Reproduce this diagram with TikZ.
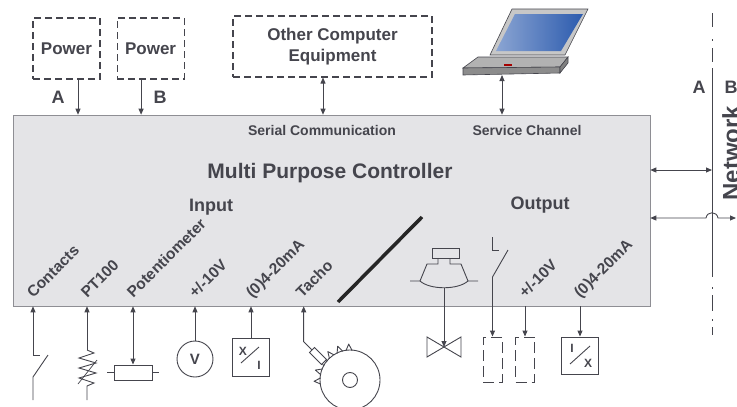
\documentclass[tikz,border=0pt]{standalone}
\usepackage{fontspec}
\setmainfont{Liberation Sans}
\usetikzlibrary{arrows.meta,positioning,calc}
\definecolor{ink}{HTML}{45454D}
\definecolor{panel}{HTML}{E4E4E7}
\definecolor{frame}{HTML}{8E8E94}
\definecolor{lcd}{HTML}{2C5BAE}
\newcommand\fs[1]{\fontsize{#1}{#1}\selectfont\bfseries}

\begin{document}
\begin{tikzpicture}[x=1pt,y=-1pt,line width=0.9pt,color=ink,
    every node/.style={text=ink,font=\fs{14}},
    >={Triangle[length=6pt,width=5pt]},
    supply/.style={draw,dash pattern=on 7pt off 4pt,line width=1.1pt,minimum width=67pt,minimum height=61pt,font=\fs{17}},
    slant/.style={rotate=45,anchor=base west,inner sep=0pt,font=\fs{15.5}},
    conv/.style={draw,minimum width=37pt,minimum height=38pt,inner sep=0pt},
    load/.style={draw,dash pattern=on 11pt off 5pt,minimum width=19pt,minimum height=45pt,inner sep=0pt},
    small/.style={inner sep=0pt,font=\fs{12}}]
   \useasboundingbox (0,0) rectangle (737,407);

   \node[draw=frame,fill=panel,line width=0.6pt,minimum width=637pt,minimum height=191pt] (mpc) at (331.5,210.5) {};
   \node[supply] (pwrA) at (66.5,48.5) {Power};
   \node[supply,right=16pt of pwrA] (pwrB) {Power};
   \node[supply,minimum width=199pt,align=center,font=\fontsize{17}{21}\selectfont\bfseries] (other) at (332.5,46.5) {Other Computer\\Equipment};
   \node[font=\fs{18}] (labA) at (58,97) {A};
   \node[font=\fs{18}] (labB) at (160,97) {B};

   % laptop
   \draw[fill=black!22,line width=0.6pt] (490,55) -- (512,9) -- (588,9) -- (565,55) -- cycle;
   \shade[left color=lcd!55!white,right color=lcd] (496,51) -- (515,14) -- (583,14) -- (561,51) -- cycle;
   \draw[fill=black!30,line width=0.6pt] (478,57) -- (568,57) -- (560,67) -- (463,68) -- cycle;
   \draw[fill=black!45,line width=0.6pt] (463,68) -- (560,67) -- (560,73) -- (463,75) -- cycle;
   \draw[fill=black!50,line width=0.6pt] (560,67) -- (568,57) -- (568,63) -- (560,73) -- cycle;
   \fill[red!65!black] (504,64) rectangle (512,66);
   \coordinate (pc) at (502,75);

   \draw[->] ([xshift=11.5pt]pwrA.south) -- ([xshift=11.5pt]pwrA.south |- mpc.north);
   \draw[->] ([xshift=-9.5pt]pwrB.south) -- ([xshift=-9.5pt]pwrB.south |- mpc.north);
   \draw[<->] ([xshift=-9.5pt]other.south) -- ([xshift=-9.5pt]other.south |- mpc.north);
   \draw[<->] (pc) -- (pc |- mpc.north);

   \node (serial) at (322,130) {Serial Communication};
   \node (service) at (527,130) {Service Channel};
   \node[font=\fs{21}] (title) at (330,173) {Multi Purpose Controller};
   \node[font=\fs{18}] (input) at (211,207) {Input};
   \node[font=\fs{18}] (output) at (540,205) {Output};
   \foreach \x/\t in {33/Contacts,87/PT100,133/Potentiometer,195/{+/-10V},252/{(0)4-20mA},302/Tacho,525/{+/-10V},580/{(0)4-20mA}}
      \node[slant] (lab\x) at (\x,299) {\t};
   \draw[line width=3.5pt,color=black!85] (338,302) -- (422,217);

   % network
   \coordinate (netT) at (712,13);
   \coordinate (netU) at (712,68);
   \coordinate (netL) at (712,287);
   \coordinate (netB) at (712,335);
   \draw[dash pattern=on 14pt off 12pt on 2pt off 7pt] (netT) -- (netU);
   \draw (netU) -- (712,277);
   \draw[dash pattern=on 2pt off 6pt on 16pt off 8pt] (netL) -- (netB);
   \node[font=\fs{18}] (netA) at (699,87) {A};
   \node[font=\fs{18}] (netBl) at (731,87) {B};
   \node[font=\fs{24},rotate=90] (net) at (731,153) {Network};
   \coordinate (bus1) at (712,170);
   \coordinate (hop) at (706,218);
   \coordinate (bus2) at (736,218);
   \draw[<->] ([yshift=40.5pt]mpc.east) -- (bus1);
   \draw[<->] ([yshift=-7.5pt]mpc.east) -- (hop) .. controls (707,211) and (717,211) .. (718,218) -- (bus2);

   % inputs
   \coordinate (sw) at (33,355);
   \draw[->] (sw) -- (sw |- mpc.south);
   \draw (sw) -- ++(7,0);
   \draw (33,400) -- (33,377) -- (48,355);
   \coordinate (pt) at (87,350);
   \draw[->] (pt) -- (pt |- mpc.south);
   \draw[line join=miter] (pt) -- (94,353) -- (79,358) -- (96,363) -- (79,368) -- (96,373) -- (79,378) -- (94,383) -- (87,386) -- (87,400);
   \draw[line width=0.7pt] (78,384) -- (97,360);
   \node[draw,minimum width=38pt,minimum height=15pt,inner sep=0pt] (pot) at (133,372.5) {};
   \draw[<->] (pot.north) -- (pot.north |- mpc.south);
   \draw (pot.west) -- ++(-7,0) (pot.east) -- ++(7,0);
   \node[draw,circle,minimum size=36pt,inner sep=0pt,font=\fs{15}] (volt) at (195,359) {V};
   \draw[->] (volt) -- (volt |- mpc.south);
   \node[conv] (xi) at (251,357) {};
   \node[small] (xiX) at (243,351) {X};
   \node[small] (xiI) at (259,365) {I};
   \draw (241,363) -- (259,347);
   \draw[->] (xi) -- (xi |- mpc.south);
   \coordinate (gear) at (350,380);
   \draw (gear) circle[radius=30pt] (gear) circle[radius=7.5pt];
   \foreach \a in {92,110,128,146,164,182}
      \draw[line join=round] ($(gear)+(\a-6:29.5pt)$) -- ($(gear)+(\a:36pt)$) -- ($(gear)+(\a+6:29.5pt)$);
   \node[draw,fill=white,minimum width=17pt,minimum height=7pt,inner sep=0pt,rotate=-45] (tacho) at (318,356) {};
   \draw[->] (tacho.west) -- ++(-8,-8) coordinate (tk) -- (tk |- mpc.south);

   % outputs
   \draw (432,248) rectangle (459,258);
   \draw (438,258) -- (438,264) -- (427,264) -- (420,281) -- (410,281);
   \draw (450,258) -- (450,264) -- (461,264) -- (468,281) -- (478,281);
   \draw (420,281) .. controls (430,290) and (458,290) .. (468,281);
   \coordinate (act) at (444,288);
   \coordinate (valve) at (444,347);
   \draw[->] (act) -- (valve);
   \draw (valve) -- ++(-17,-10) -- ++(0,20) -- cycle;
   \draw (valve) -- ++(17,-10) -- ++(0,20) -- cycle;
   \draw (492.5,237) -- (492.5,250) -- (499,250);
   \coordinate (rly) at (492.5,277);
   \draw (rly) -- (508,250);
   \node[load] (dq1) at (492.5,359.5) {};
   \node[load] (dq2) at (525,359.5) {};
   \draw[->] (rly) -- (dq1.north);
   \draw[->] (mpc.south -| dq2) -- (dq2.north);
   \node[conv,minimum height=37pt] (ix) at (580,355.5) {};
   \node[small] (ixI) at (572,348) {I};
   \node[small] (ixX) at (588,363) {X};
   \draw (570,364) -- (590,346);
   \draw[->] (mpc.south -| ix) -- (ix);
\end{tikzpicture}
\end{document}
